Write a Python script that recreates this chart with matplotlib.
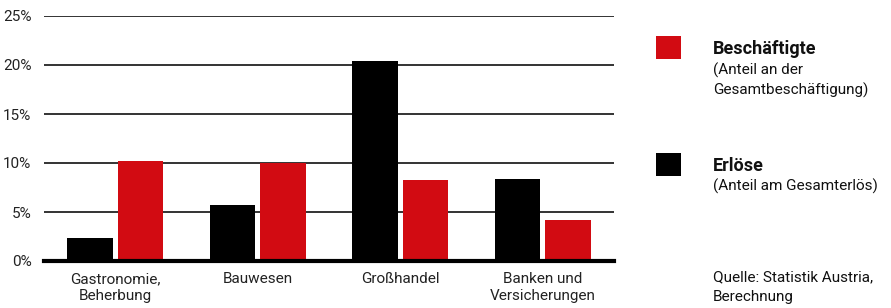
import matplotlib
matplotlib.use("Agg")
import matplotlib.pyplot as plt
from matplotlib.patches import Rectangle
import numpy as np

categories = ["Gastronomie,\nBeherbung", "Bauwesen", "Großhandel", "Banken und\nVersicherungen"]
erloese = [2.3, 5.7, 20.4, 8.4]
beschaeftigte = [10.2, 10.0, 8.3, 4.2]
yticks = [0, 5, 10, 15, 20, 25]
ytick_labels = ["0%", "5%", "10%", "15%", "20%", "25%"]

RED = "#D20B12"
BLACK = "#000000"
FONT = ["Roboto", "DejaVu Sans"]
plt.rcParams["font.family"] = FONT

W, H = 891, 308
fig = plt.figure(figsize=(W / 100, H / 100), dpi=100)
ax = fig.add_axes([44 / W, 1 - 261 / H, (614 - 44) / W, (261 - 16) / H])

x = np.arange(len(categories))
width = 0.32
off = 0.177
ax.bar(x - off, erloese, width, color=BLACK, zorder=3)
ax.bar(x + off, beschaeftigte, width, color=RED, zorder=3)

ax.set_xlim(-0.5, len(categories) - 0.5)
ax.set_ylim(0, 25)
ax.set_yticks(yticks)
ax.set_yticklabels(ytick_labels, fontsize=11, color="#222222")
ax.set_xticks(x)
ax.set_xticklabels(categories, fontsize=11, color="#222222", linespacing=1.25)
ax.tick_params(axis="both", length=0)
ax.tick_params(axis="y", pad=9)
ax.tick_params(axis="x", pad=8)
ax.yaxis.grid(True, color="#333333", linewidth=1.4, zorder=0)
for s in ["top", "right", "left"]:
    ax.spines[s].set_visible(False)
ax.spines["bottom"].set_linewidth(3)
ax.spines["bottom"].set_color("black")
ax.spines["bottom"].set_zorder(4)


def px(xp, yp):
    return xp / W, 1 - yp / H


# legend squares
for (y0, c) in [(36, RED), (153, BLACK)]:
    fx, fy = px(656, y0 + 23)
    fig.add_artist(Rectangle((fx, fy), 25 / W, 23 / H, transform=fig.transFigure,
                             facecolor=c, edgecolor="none"))

tx = 713
fig.text(*px(tx, 49), "Beschäftigte", fontsize=13, fontweight="bold", va="center", color="#111111")
fig.text(*px(tx, 70), "(Anteil an der", fontsize=11, va="center", color="#111111")
fig.text(*px(tx, 90), "Gesamtbeschäftigung)", fontsize=11, va="center", color="#111111")
fig.text(*px(tx, 166), "Erlöse", fontsize=13, fontweight="bold", va="center", color="#111111")
fig.text(*px(tx, 186), "(Anteil am Gesamterlös)", fontsize=11, va="center", color="#111111")
fig.text(*px(tx, 277), "Quelle: Statistik Austria,", fontsize=11, va="center", color="#111111")
fig.text(*px(tx, 297), "Berechnung", fontsize=11, va="center", color="#111111")

fig.savefig("out.png", dpi=100)
